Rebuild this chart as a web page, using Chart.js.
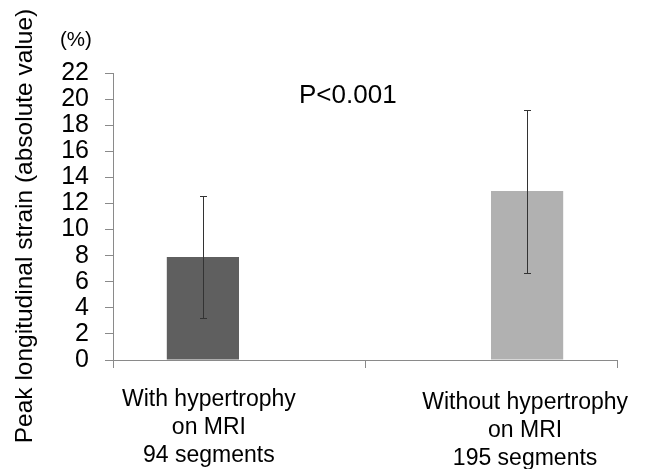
<!DOCTYPE html>
<html>
<head>
<meta charset="utf-8">
<script src="https://cdn.jsdelivr.net/npm/chart.js@4/dist/chart.umd.min.js"></script>
<style>
html,body{margin:0;padding:0;background:#fff;}
#wrap{width:648px;height:469px;}
</style>
</head>
<body>
<div id="wrap"><canvas id="c" width="648" height="469"></canvas></div>
<script>
// ---- data ----
const categories = ['With hypertrophy on MRI', 'Without hypertrophy on MRI'];
const categoryLines = [
  ['With hypertrophy', 'on MRI', '94 segments'],
  ['Without hypertrophy', 'on MRI', '195 segments']
];
const meanValues = [7.9, 12.95];
const errLow = [3.2, 6.65];
const errHigh = [12.6, 19.2];
const yTicks = [0, 2, 4, 6, 8, 10, 12, 14, 16, 18, 20, 22];
const yTitle = 'Peak longitudinal strain (absolute value)';
const unitLabel = '(%)';
const pLabel = 'P<0.001';
const barColors = ['#5f5f5f', '#b1b1b1'];

const FONT = '"Liberation Sans", Arial, Helvetica, sans-serif';
const AXIS_GRAY = '#8a8a8a';

const datasets = meanValues.map((v, i) => ({
  label: categories[i],
  data: categories.map((_, j) => (j === i ? v : null)),
  backgroundColor: barColors[i],
  borderWidth: 0,
  categoryPercentage: 0.573,
  barPercentage: 1.0
}));

const overlayPlugin = {
  id: 'overlay',
  afterDatasetsDraw(chart) {
    const ctx = chart.ctx;
    const y = chart.scales.y;
    ctx.save();
    // error bars
    ctx.strokeStyle = '#333333';
    ctx.lineWidth = 1;
    meanValues.forEach((v, i) => {
      const bar = chart.getDatasetMeta(i).data[i];
      const x = Math.round(bar.x) + 0.5;
      const yl = Math.round(y.getPixelForValue(errLow[i])) + 0.5;
      const yh = Math.round(y.getPixelForValue(errHigh[i])) + 0.5;
      ctx.beginPath();
      ctx.moveTo(x, yl); ctx.lineTo(x, yh);
      ctx.moveTo(x - 3.5, yl); ctx.lineTo(x + 3.5, yl);
      ctx.moveTo(x - 3.5, yh); ctx.lineTo(x + 3.5, yh);
      ctx.stroke();
    });
    // category labels under bars
    ctx.fillStyle = '#000';
    ctx.font = '23px ' + FONT;
    ctx.textAlign = 'center';
    ctx.textBaseline = 'alphabetic';
    const shifts = [6, -2];
    const drops = [0, 3];
    categoryLines.forEach((lines, i) => {
      const bar = chart.getDatasetMeta(i).data[i];
      lines.forEach((t, k) => {
        ctx.fillText(t, bar.x + shifts[i], chart.chartArea.bottom + 46 + drops[i] + k * 28);
      });
    });
    // p value
    ctx.font = '26px ' + FONT;
    ctx.textAlign = 'left';
    ctx.fillText(pLabel, 299, 103);
    // unit
    ctx.font = '20.5px ' + FONT;
    ctx.textAlign = 'left';
    ctx.fillText(unitLabel, 60, 46);
    // y title
    ctx.font = '24.5px ' + FONT;
    ctx.translate(25, 226);
    ctx.rotate(-Math.PI / 2);
    ctx.textAlign = 'center';
    ctx.textBaseline = 'middle';
    ctx.fillText(yTitle, 0, 0);
    ctx.restore();
  }
};

new Chart(document.getElementById('c'), {
  type: 'bar',
  data: { labels: categories, datasets },
  options: {
    responsive: false,
    animation: false,
    devicePixelRatio: 1,
    layout: { padding: { top: 73, right: 31, left: 0, bottom: 0 } },
    plugins: { legend: { display: false }, tooltip: { enabled: false } },
    scales: {
      x: {
        stacked: false,
        grid: { display: true, drawOnChartArea: false, drawTicks: true, tickLength: 8, color: AXIS_GRAY, offset: true },
        border: { display: true, color: AXIS_GRAY, width: 1 },
        ticks: { display: false },
        afterFit(s) { s.height = 109; }
      },
      y: {
        min: 0, max: 22,
        afterBuildTicks(s) { s.ticks = yTicks.map(v => ({ value: v })); },
        ticks: { color: '#000', font: { family: FONT, size: 25 }, padding: 16, autoSkip: false },
        grid: { display: true, drawOnChartArea: false, drawTicks: true, tickLength: 8, color: AXIS_GRAY },
        border: { display: true, color: AXIS_GRAY, width: 1 },
        afterFit(s) { s.width = 113; }
      }
    }
  },
  plugins: [overlayPlugin]
});
</script>
</body>
</html>
